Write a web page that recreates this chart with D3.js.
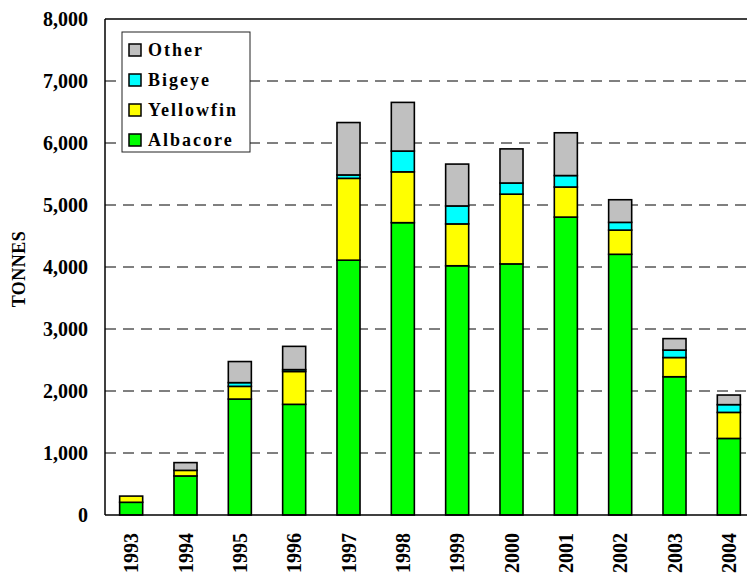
<!DOCTYPE html>
<html>
<head>
<meta charset="utf-8">
<script src="https://cdn.jsdelivr.net/npm/d3@7"></script>
<style>
body { margin: 0; background: #fff; }
text { font-family: "Times New Roman", "Liberation Serif", serif; font-weight: bold; fill: #000; }
</style>
</head>
<body>
<div id="chart"><svg width="747" height="578"></svg></div>
<script>
// catch by species, tonnes
var years = ["1993","1994","1995","1996","1997","1998","1999","2000","2001","2002","2003","2004"];
var albacore  = [205, 630, 1870, 1785, 4110, 4715, 4020, 4050, 4805, 4205, 2230, 1235];
var yellowfin = [100,  90,  205,  530, 1320,  820,  675, 1125,  485,  390,  310,  420];
var bigeye    = [  0,   0,   60,   30,   55,  335,  290,  180,  185,  125,  120,  125];
var other     = [  0, 125,  340,  375,  845,  785,  675,  550,  690,  365,  185,  155];
var yTicks = [0, 1000, 2000, 3000, 4000, 5000, 6000, 7000, 8000];
var species = ["Albacore", "Yellowfin", "Bigeye", "Other"];
var colors = {"Albacore": "#00ff00", "Yellowfin": "#ffff00", "Bigeye": "#00ffff", "Other": "#c0c0c0"};

var rows = years.map(function(y, i) {
  return {year: y, Albacore: albacore[i], Yellowfin: yellowfin[i], Bigeye: bigeye[i], Other: other[i]};
});

var svg = d3.select("#chart").select("svg");
var pLeft = 105, pTop = 19, pBottom = 515, pRight = 756;

var x = d3.scaleBand().domain(years).range([104, pRight]).paddingInner(0.576).paddingOuter(0.288);
var y = d3.scaleLinear().domain([0, 8000]).range([pBottom, pTop]);

// dashed grid
svg.append("g").selectAll("line").data(yTicks.filter(function(d) { return d > 0 && d < 8000; })).enter()
  .append("line")
  .attr("x1", pLeft).attr("x2", 747)
  .attr("y1", function(d) { return y(d); }).attr("y2", function(d) { return y(d); })
  .attr("stroke", "#000").attr("stroke-width", 1).attr("stroke-dasharray", "11,7");

// frame top + left axis
svg.append("line").attr("x1", pLeft).attr("x2", 747).attr("y1", y(8000)).attr("y2", y(8000)).attr("stroke", "#000").attr("stroke-width", 1.5);
svg.append("line").attr("x1", pLeft).attr("x2", pLeft).attr("y1", y(8000)).attr("y2", pBottom).attr("stroke", "#000").attr("stroke-width", 1.5);

// stacked bars
var stacked = d3.stack().keys(species)(rows);
svg.append("g").selectAll("g").data(stacked).enter().append("g")
  .attr("fill", function(d) { return colors[d.key]; })
  .selectAll("rect").data(function(d) { return d.filter(function(v) { return v[1] - v[0] > 0; }); }).enter()
  .append("rect")
  .attr("x", function(d) { return x(d.data.year); })
  .attr("width", x.bandwidth())
  .attr("y", function(d) { return y(d[1]); })
  .attr("height", function(d) { return y(d[0]) - y(d[1]); })
  .attr("stroke", "#000").attr("stroke-width", 1.6);

svg.append("line").attr("x1", pLeft).attr("x2", 747).attr("y1", pBottom).attr("y2", pBottom).attr("stroke", "#000").attr("stroke-width", 1.5);

// y tick labels
var fmt = d3.format(",");
svg.append("g").selectAll("text").data(yTicks).enter().append("text")
  .attr("x", 88).attr("y", function(d) { return y(d); }).attr("dy", "0.35em")
  .attr("text-anchor", "end").style("font-size", "20px")
  .text(function(d) { return fmt(d); });

// x labels, rotated
svg.append("g").selectAll("text").data(years).enter().append("text")
  .attr("transform", function(d) { return "translate(" + (x(d) + x.bandwidth() / 2) + ",533) rotate(-90)"; })
  .attr("dy", "0.35em").attr("text-anchor", "end").style("font-size", "20px")
  .text(function(d) { return d; });

// axis title
svg.append("text").attr("transform", "translate(19,269) rotate(-90)").attr("dy", "0.35em")
  .attr("text-anchor", "middle").style("font-size", "18px").style("letter-spacing", "0.5px").text("TONNES");

// legend
var lg = svg.append("g");
lg.append("rect").attr("x", 122).attr("y", 32).attr("width", 128).attr("height", 120)
  .attr("fill", "#fff").attr("stroke", "#222").attr("stroke-width", 1);
var items = species.slice().reverse();
items.forEach(function(s, i) {
  var cy = 50 + i * 30;
  lg.append("rect").attr("x", 129).attr("y", cy - 6).attr("width", 12).attr("height", 12)
    .attr("fill", colors[s]).attr("stroke", "#000").attr("stroke-width", 1.5);
  lg.append("text").attr("x", 148).attr("y", cy).attr("dy", "0.35em")
    .style("font-size", "18px").style("letter-spacing", "2px").text(s);
});
</script>
</body>
</html>
